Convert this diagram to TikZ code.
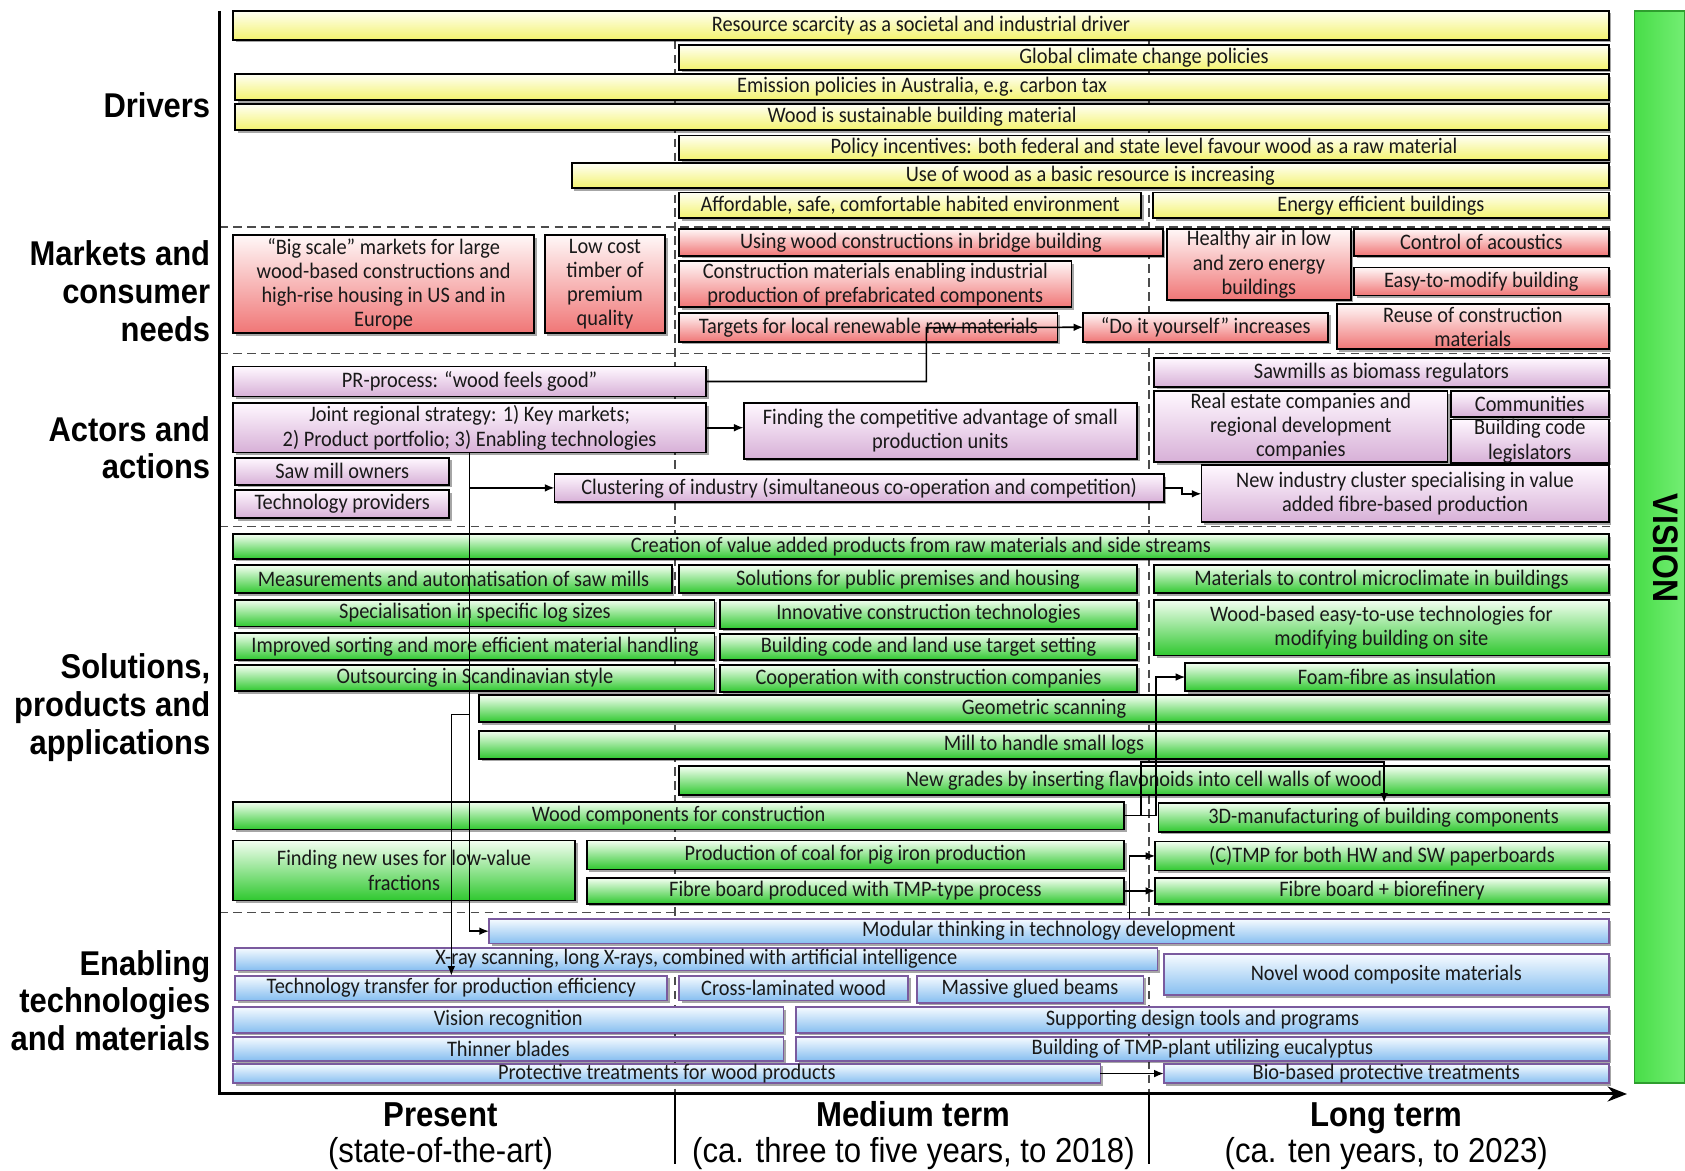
\documentclass[tikz,border=0pt]{standalone}
\usepackage{fontspec}
\setmainfont{Carlito}
\newfontfamily\boxfont[FakeStretch=0.92]{Carlito}
\newfontfamily\labfont[FakeStretch=0.9]{Liberation Sans}
\usetikzlibrary{shadows,arrows.meta,calc}
\definecolor{ytop}{HTML}{FFFFF4}
\definecolor{ybot}{HTML}{F3F36E}
\definecolor{rtop}{HTML}{FFF7F7}
\definecolor{rbot}{HTML}{F07676}
\definecolor{ptop}{HTML}{FFF8FF}
\definecolor{pbot}{HTML}{D7B0D7}
\definecolor{gtop}{HTML}{F4FFF2}
\definecolor{gbot}{HTML}{2FC82F}
\definecolor{btop}{HTML}{F6FBFF}
\definecolor{bbot}{HTML}{86BEF0}
\definecolor{bline}{HTML}{7A5A9E}
\definecolor{visl}{HTML}{48DD48}
\definecolor{visr}{HTML}{74EE74}
\definecolor{visb}{HTML}{2E9E2E}
\tikzset{
  base/.style={draw=black, line width=0.8pt, inner sep=0pt, outer sep=0pt,
    font=\boxfont\fontsize{10.3}{11.3}\selectfont, align=center, text=black!90,
    drop shadow={shadow xshift=1.2pt, shadow yshift=-1.2pt, opacity=0.35, fill=black}},
  drv/.style={base, top color=ytop, bottom color=ybot},
  mkt/.style={base, top color=rtop, bottom color=rbot},
  act/.style={base, top color=ptop, bottom color=pbot},
  sol/.style={base, top color=gtop, bottom color=gbot},
  ena/.style={base, draw=bline, top color=btop, bottom color=bbot},
  cat/.style={font=\labfont\bfseries\fontsize{16}{17.5}\selectfont, align=right, inner sep=0pt, anchor=east},
  tbold/.style={font=\labfont\bfseries\fontsize{16.1}{17.5}\selectfont, inner sep=0pt, anchor=base},
  treg/.style={font=\labfont\fontsize{16.1}{17.5}\selectfont, inner sep=0pt, anchor=base},
  sepline/.style={line width=0.7pt, dash pattern=on 4pt off 2.5pt, draw=black!70},
  conn/.style={line width=0.75pt, draw=black, -{Latex[length=4.5pt,width=3.6pt]}},
}
\newcommand\bx[7]{\node[#2, minimum width={(#5-#3)*0.5pt}, minimum height={(#6-#4)*0.5pt}] (#1) at ({(#3+#5)/2},{(#4+#6)/2}) {#7};}
\begin{document}
\begin{tikzpicture}[x=0.5pt, y=-0.5pt]
\useasboundingbox (0,0) rectangle (1568,1089);
\fill[white] (0,0) rectangle (1568,1089);

% separators
\draw[sepline] (204,211) -- (1498,211);
\draw[sepline] (204,329) -- (1498,329);
\draw[sepline] (204,490) -- (1498,490);
\draw[sepline] (204,849) -- (1498,849);
\draw[sepline] (628,12) -- (628,1016);
\draw[sepline] (1069,12) -- (1069,1016);

% vision bar
\node[minimum width=23.5pt, minimum height=499pt, inner sep=0pt, draw=visb, line width=0.8pt, left color=visl, right color=visr] (visionbar) at (1544.5,509) {};
\node[rotate=-90, font=\labfont\bfseries\fontsize{16.5}{18}\selectfont, inner sep=0pt] (vision) at (1550,510) {VISION};

% Drivers
\bx{d1}{drv}{217}{10}{1497}{37}{Resource scarcity as a societal and industrial driver}
\bx{d2}{drv}{632}{42}{1497}{65}{Global climate change policies}
\bx{d3}{drv}{219}{69}{1497}{93}{Emission policies in Australia, e.g. carbon tax}
\bx{d4}{drv}{219}{97}{1497}{121}{Wood is sustainable building material}
\bx{d5}{drv}{632}{126}{1497}{149}{Policy incentives: both federal and state level favour wood as a raw material}
\bx{d6}{drv}{532}{152}{1497}{175}{Use of wood as a basic resource is increasing}
\bx{d7}{drv}{632}{179}{1062}{203}{Affordable, safe, comfortable habited environment}
\bx{d8}{drv}{1073}{179}{1497}{203}{Energy efficient buildings}

% Markets
\bx{m1}{mkt}{217}{219}{497}{310}{“Big scale” markets for large\\wood-based constructions and\\high-rise housing in US and in\\Europe}
\bx{m2}{mkt}{507}{219}{619}{310}{Low cost\\timber of\\premium\\quality}
\bx{m3}{mkt}{632}{213}{1082}{238}{Using wood constructions in bridge building}
\bx{m4}{mkt}{632}{243}{997}{286}{Construction materials enabling industrial\\production of prefabricated components}
\bx{m5}{mkt}{632}{291}{984}{318}{Targets for local renewable raw materials}
\bx{m6}{mkt}{1008}{291}{1236}{318}{“Do it yourself” increases}
\bx{m7}{mkt}{1086}{213}{1257}{279}{Healthy air in low\\and zero energy\\buildings}
\bx{m8}{mkt}{1260}{213}{1497}{238}{Control of acoustics}
\bx{m9}{mkt}{1260}{249}{1497}{275}{Easy-to-modify building}
\bx{m10}{mkt}{1244}{283}{1497}{325}{Reuse of construction\\materials}

% Actors
\bx{a1}{act}{217}{341}{657}{369}{PR-process: “wood feels good”}
\bx{a2}{act}{217}{375}{657}{421}{Joint regional strategy: 1) Key markets;\\2) Product portfolio; 3) Enabling technologies}
\bx{a3}{act}{692}{375}{1058}{427}{Finding the competitive advantage of small\\production units}
\bx{a4}{act}{219}{426}{418}{451}{Saw mill owners}
\bx{a5}{act}{219}{456}{418}{482}{Technology providers}
\bx{a6}{act}{516}{441}{1083}{467}{Clustering of industry (simultaneous co-operation and competition)}
\bx{a7}{act}{1074}{333}{1497}{360}{Sawmills as biomass regulators}
\bx{a8}{act}{1074}{364}{1347}{430}{Real estate companies and\\regional development\\companies}
\bx{a9}{act}{1350}{364}{1497}{388}{Communities}
\bx{a10}{act}{1350}{391}{1497}{430}{Building code\\legislators}
\bx{a11}{act}{1118}{433}{1497}{486}{New industry cluster specialising in value\\added fibre-based production}

% Solutions
\bx{s1}{sol}{217}{497}{1497}{520}{Creation of value added products from raw materials and side streams}
\bx{s2}{sol}{219}{526}{625}{552}{Measurements and automatisation of saw mills}
\bx{s3}{sol}{632}{526}{1058}{552}{Solutions for public premises and housing}
\bx{s4}{sol}{1074}{526}{1497}{552}{Materials to control microclimate in buildings}
\bx{s5}{sol}{219}{558}{665}{583}{Specialisation in specific log sizes}
\bx{s6}{sol}{670}{558}{1058}{585}{Innovative construction technologies}
\bx{s7}{sol}{1074}{558}{1497}{610}{Wood-based easy-to-use technologies for\\modifying building on site}
\bx{s8}{sol}{219}{589}{665}{614}{Improved sorting and more efficient material handling}
\bx{s9}{sol}{670}{590}{1058}{614}{Building code and land use target setting}
\bx{s10}{sol}{219}{619}{665}{643}{Outsourcing in Scandinavian style}
\bx{s11}{sol}{670}{619}{1058}{644}{Cooperation with construction companies}
\bx{s12}{sol}{1103}{617}{1497}{643}{Foam-fibre as insulation}
\bx{s13}{sol}{446}{647}{1497}{672}{Geometric scanning}
\bx{s14}{sol}{446}{680}{1497}{706}{Mill to handle small logs}
\bx{s15}{sol}{632}{713}{1497}{740}{New grades by inserting flavonoids into cell walls of wood}
\bx{s16}{sol}{217}{746}{1046}{772}{Wood components for construction}
\bx{s17}{sol}{1078}{747}{1497}{774}{3D-manufacturing of building components}
\bx{s18}{sol}{217}{782}{535}{838}{Finding new uses for low-value\\fractions}
\bx{s19}{sol}{546}{782}{1046}{809}{Production of coal for pig iron production}
\bx{s20}{sol}{1075}{783}{1497}{810}{(C)TMP for both HW and SW paperboards}
\bx{s21}{sol}{546}{817}{1046}{841}{Fibre board produced with TMP-type process}
\bx{s22}{sol}{1075}{817}{1497}{841}{Fibre board + biorefinery}

% Enabling
\bx{e1}{ena}{455}{855}{1497}{878}{Modular thinking in technology development}
\bx{e2}{ena}{219}{882}{1077}{903}{X-ray scanning, long X-rays, combined with artificial intelligence}
\bx{e3}{ena}{1083}{888}{1497}{926}{Novel wood composite materials}
\bx{e4}{ena}{219}{908}{621}{931}{Technology transfer for production efficiency}
\bx{e5}{ena}{632}{908}{845}{931}{Cross-laminated wood}
\bx{e6}{ena}{853}{908}{1064}{933}{Massive glued beams}
\bx{e7}{ena}{217}{937}{729}{961}{Vision recognition}
\bx{e8}{ena}{741}{937}{1497}{961}{Supporting design tools and programs}
\bx{e9}{ena}{217}{965}{729}{987}{Thinner blades}
\bx{e10}{ena}{741}{965}{1497}{987}{Building of TMP-plant utilizing eucalyptus}
\bx{e11}{ena}{217}{990}{1024}{1008}{Protective treatments for wood products}
\bx{e12}{ena}{1083}{990}{1497}{1008}{Bio-based protective treatments}

% axes
\draw[line width=1.4pt] (204,10) -- (204,1018);
\draw[line width=1.4pt, -{Stealth[length=9pt,width=7pt]}] (203.3,1018) -- (1514,1018);
\draw[line width=0.9pt] (628,1018) -- (628,1083);
\draw[line width=0.9pt] (1069,1018) -- (1069,1083);

% category labels
\node[cat] (ldrv) at (196,98) {Drivers};
\node[cat] (lmkt) at (196,271) {Markets and\\consumer\\needs};
\node[cat] (lact) at (196,416.5) {Actors and\\actions};
\node[cat] (lsol) at (196,658.5) {Solutions,\\products and\\applications};
\node[cat] (lena) at (196,931) {Enabling\\technologies\\and materials};

% time labels
\node[tbold] (tp1) at (410,1048) {Present};
\node[treg] (tp2) at (410,1082) {(state-of-the-art)};
\node[tbold] (tm1) at (850,1048) {Medium term};
\node[treg] (tm2) at (850,1082) {(ca. three to five years, to 2018)};
\node[tbold] (tl1) at (1290,1048) {Long term};
\node[treg] (tl2) at (1290,1082) {(ca. ten years, to 2023)};

% helper coordinates
\coordinate (prturn) at (862,305);
\coordinate (vx) at (437,0);
\coordinate (vx2) at (420,0);
\coordinate (br) at (437,665);
\coordinate (vf) at (1076,0);
\coordinate (vg) at (1062,709);
\coordinate (vh) at (1288,0);
\coordinate (vm) at (1051,0);

% connectors
\draw[conn] (a1.east) -| (prturn) -- (m6.west);
\draw[conn] (a2.east) -- (a3.west |- a2.east);
\draw[conn] (a2.south -| vx) |- (a6.west);
\draw[conn] (a2.south -| vx) |- (e1.west);
\draw[conn] (br) -| (e4.north -| vx2);
\draw[conn] (a6.east) -- ++(17,0) |- (a11.west);
\draw[conn] (s16.east) -| (vf |- s12.west) -- (s12.west);
\draw[conn] (s16.east) -| (vg) -| (s17.north -| vh);
\draw[conn] (e1.north -| vm) |- (s20.west);
\draw[conn] (s21.east) -- (s22.west);
\draw[conn] (e11.east) -- (e12.west);
\end{tikzpicture}
\end{document}
